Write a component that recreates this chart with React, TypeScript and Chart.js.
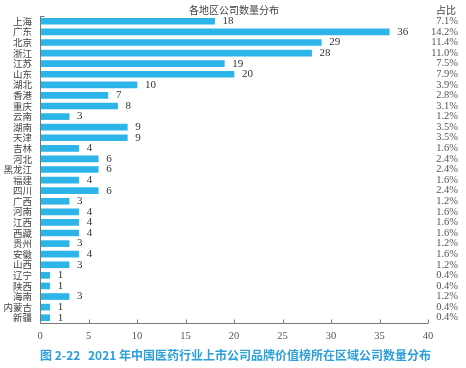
import React, { useEffect, useRef } from "react";
import { Chart, registerables } from "chart.js";

Chart.register(...registerables);

const categories = ["上海", "广东", "北京", "浙江", "江苏", "山东", "湖北", "香港", "重庆", "云南", "湖南", "天津", "吉林", "河北", "黑龙江", "福建", "四川", "广西", "河南", "江西", "西藏", "贵州", "安徽", "山西", "辽宁", "陕西", "海南", "内蒙古", "新疆"];
const counts = [18, 36, 29, 28, 19, 20, 10, 7, 8, 3, 9, 9, 4, 6, 6, 4, 6, 3, 4, 4, 4, 3, 4, 3, 1, 1, 3, 1, 1];
const shares = ["7.1%", "14.2%", "11.4%", "11.0%", "7.5%", "7.9%", "3.9%", "2.8%", "3.1%", "1.2%", "3.5%", "3.5%", "1.6%", "2.4%", "2.4%", "1.6%", "2.4%", "1.2%", "1.6%", "1.6%", "1.6%", "1.2%", "1.6%", "1.2%", "0.4%", "0.4%", "1.2%", "0.4%", "0.4%"];
const xMin = 0;
const xMax = 40;
const xStep = 5;
const chartTitle = "各地区公司数量分布";
const shareHeader = "占比";
const captionNo = "图 2-22";
const captionText = "2021 年中国医药行业上市公司品牌价值榜所在区域公司数量分布";

const BAR = "#2db4e8";
const SERIF = "'Liberation Serif', 'DejaVu Serif', serif";
const CJK = "'Noto Sans CJK SC', sans-serif";

const overlay = {
  id: "overlay",
  afterDraw(chart: any) {
    const ctx = chart.ctx;
    const area = chart.chartArea;
    const xs = chart.scales.x;
    const ys = chart.scales.y;
    const left = Math.round(area.left) + 0.5;
    const bottom = Math.round(area.bottom) + 0.5;
    ctx.save();
    // axes
    ctx.strokeStyle = "#777";
    ctx.lineWidth = 1;
    ctx.beginPath();
    ctx.moveTo(left, area.top);
    ctx.lineTo(left, bottom);
    ctx.lineTo(area.right, bottom);
    ctx.stroke();
    ctx.beginPath();
    for (let v = xMin; v <= xMax; v += xStep) {
      const px = Math.round(xs.getPixelForValue(v)) + 0.5;
      ctx.moveTo(px, bottom);
      ctx.lineTo(px, bottom - 4);
    }
    ctx.moveTo(left, Math.round(area.top) + 0.5);
    ctx.lineTo(left + 4, Math.round(area.top) + 0.5);
    ctx.stroke();
    // x tick labels
    ctx.fillStyle = "#555";
    ctx.font = "10.5px " + SERIF;
    ctx.textAlign = "center";
    ctx.textBaseline = "middle";
    for (let v = xMin; v <= xMax; v += xStep) {
      ctx.fillText(String(v), xs.getPixelForValue(v), bottom + 13);
    }
    // y labels
    ctx.fillStyle = "#444";
    ctx.font = "9.5px " + CJK;
    ctx.textAlign = "right";
    categories.forEach((c, i) => {
      ctx.fillText(c, area.left - 8, ys.getPixelForValue(i));
    });
    // value labels
    ctx.fillStyle = "#333";
    ctx.font = "11px " + SERIF;
    ctx.textAlign = "left";
    counts.forEach((v, i) => {
      const px = xs.getPixelForValue(v);
      const py = ys.getPixelForValue(i);
      ctx.fillText(String(v), px + 8, py);
    });
    // shares
    ctx.fillStyle = "#555";
    ctx.font = "10.5px " + SERIF;
    ctx.textAlign = "right";
    shares.forEach((s, i) => {
      ctx.fillText(s, 458, ys.getPixelForValue(i));
    });
    // titles
    ctx.fillStyle = "#444";
    ctx.font = "10px " + CJK;
    ctx.textAlign = "center";
    ctx.fillText(chartTitle, 234, 10);
    ctx.fillText(shareHeader, 446, 10);
    // caption
    ctx.fillStyle = "#2d9fd9";
    ctx.font = "bold 12px " + CJK;
    ctx.textAlign = "left";
    ctx.fillText(captionNo, 40, 355);
    ctx.fillText(captionText, 88, 355);
    ctx.restore();
  },
};

export default function App() {
  const ref = useRef<HTMLCanvasElement | null>(null);
  useEffect(() => {
    if (!ref.current) return;
    const chart = new Chart(ref.current, {
      type: "bar",
      data: {
        labels: categories,
        datasets: [
          {
            data: counts,
            backgroundColor: BAR,
            barThickness: 6,
          },
        ],
      },
      options: {
        indexAxis: "y",
        responsive: false,
        animation: false,
        layout: { padding: { top: 16, right: 38, bottom: 25, left: 0 } },
        plugins: { legend: { display: false }, tooltip: { enabled: false }, title: { display: false } },
        scales: {
          x: {
            min: xMin,
            max: xMax,
            ticks: { display: false, stepSize: xStep },
            grid: { display: false },
            border: { display: false },
            afterFit: (s: any) => {
              s.height = 20;
            },
          },
          y: {
            ticks: { display: false },
            grid: { display: false },
            border: { display: false },
            afterFit: (s: any) => {
              s.width = 40;
            },
          },
        },
      } as any,
      plugins: [overlay],
    });
    return () => chart.destroy();
  }, []);
  return (
    <div style={{ position: "absolute", left: 0, top: 0, width: 466, height: 368, background: "#fff" }}>
      <canvas ref={ref} width={466} height={368} />
    </div>
  );
}
